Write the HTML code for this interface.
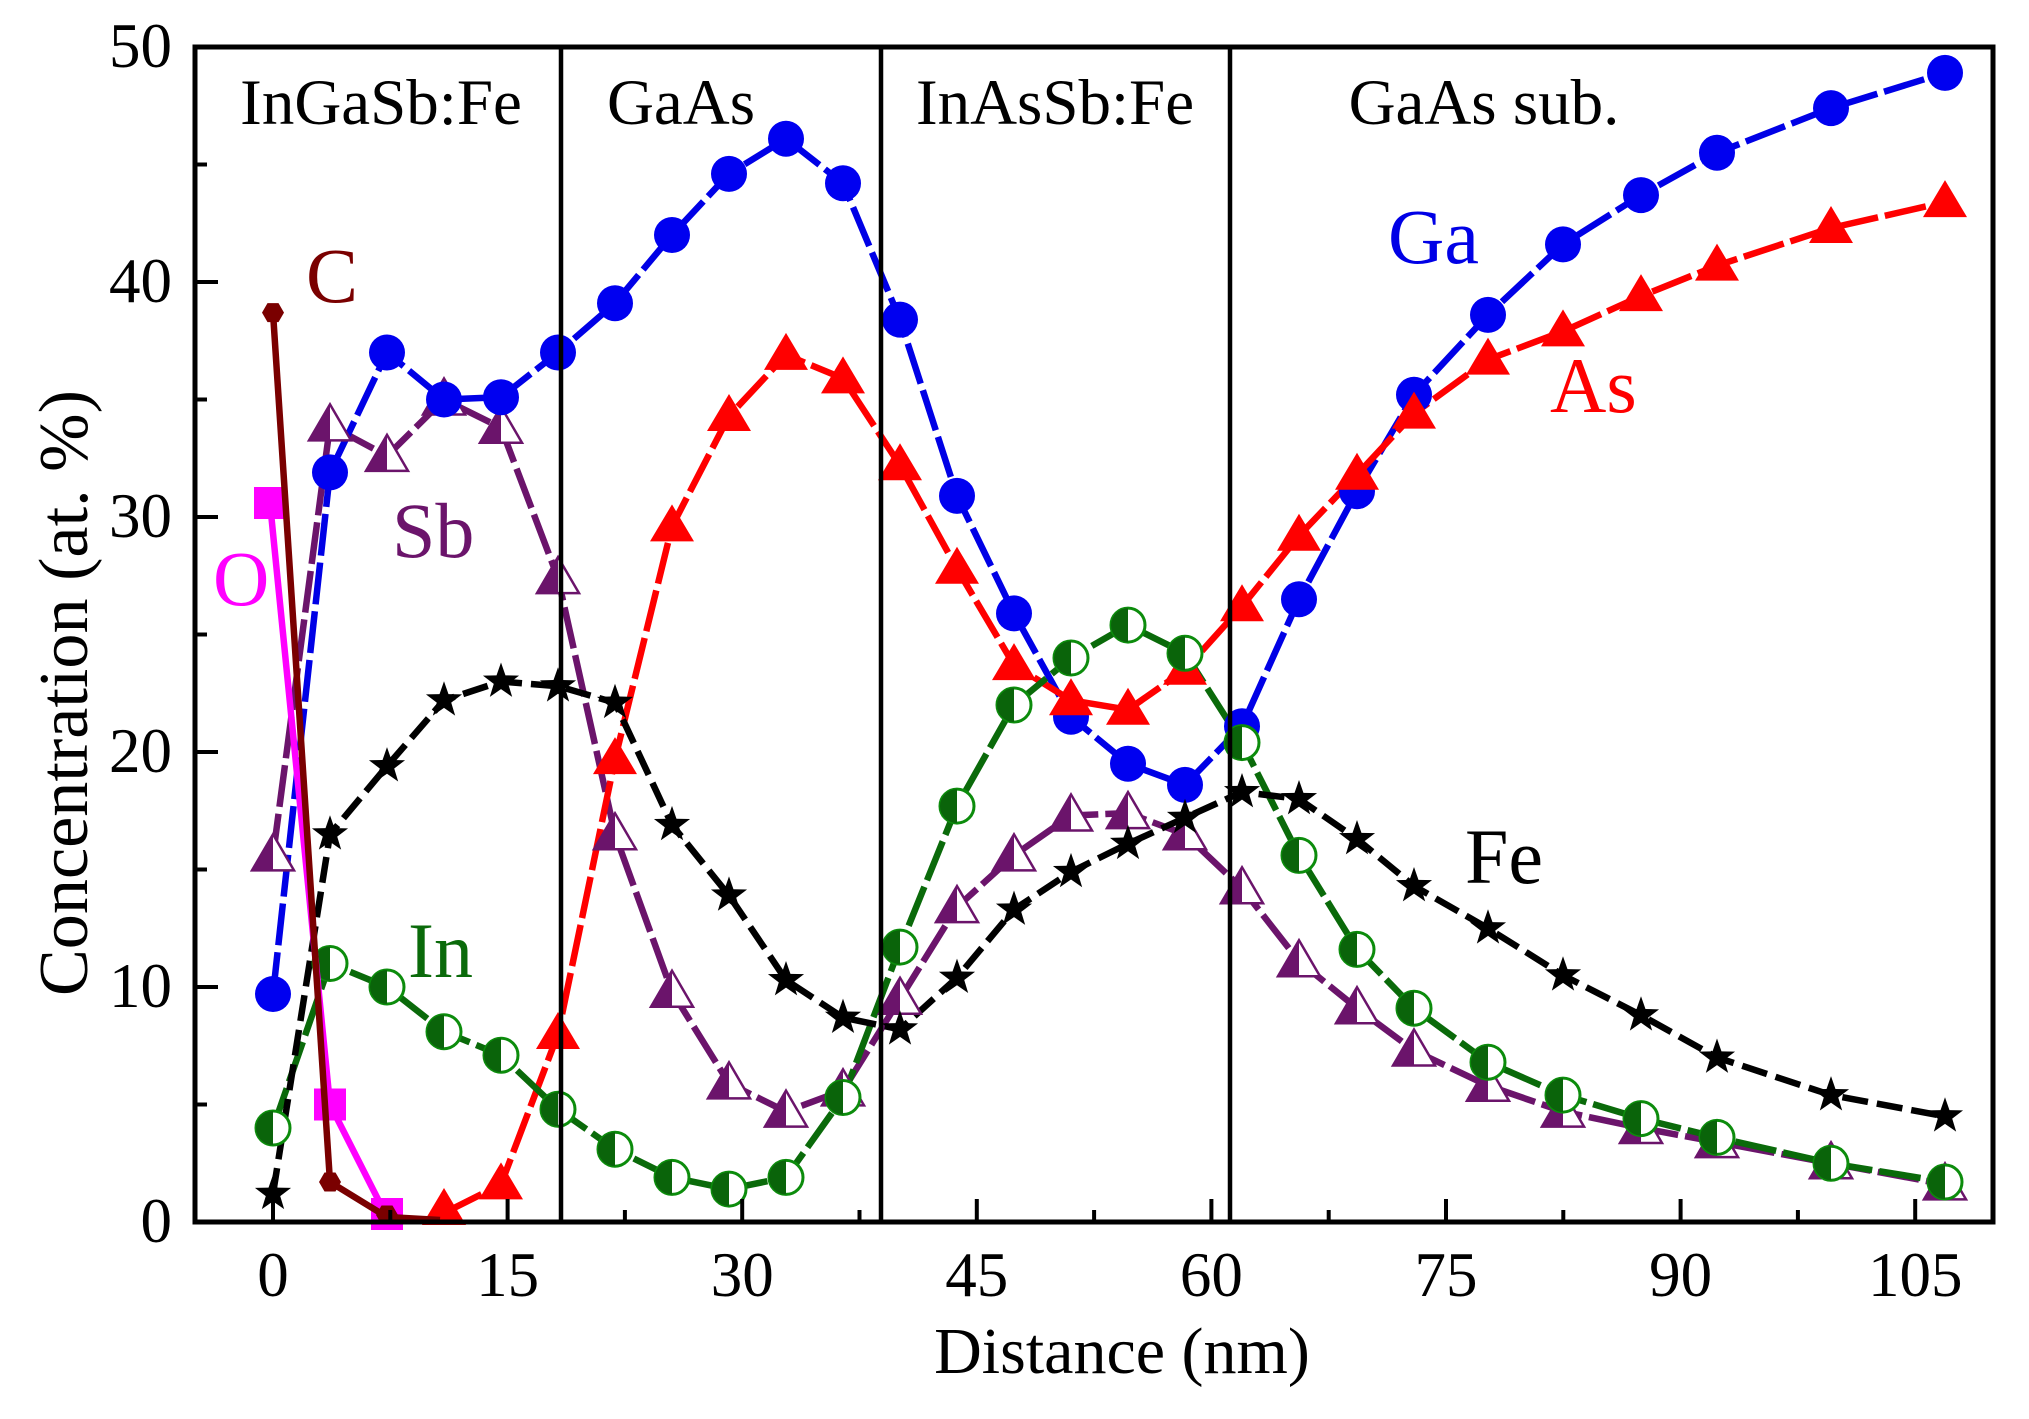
<!DOCTYPE html>
<html><head><meta charset="utf-8"><style>
html,body{margin:0;padding:0;background:#fff;}
svg{display:block;}
text{font-family:"Liberation Serif","DejaVu Serif",serif;}
</style></head><body>
<svg width="2029" height="1419" viewBox="0 0 2029 1419" xmlns="http://www.w3.org/2000/svg">
<defs>
  <g id="mC"><circle r="18" fill="#0000f0"/></g>
  <g id="mT"><polygon points="0,-22 22,15 -22,15" fill="#ff0000"/></g>
  <g id="mH"><polygon points="0,-21 21,15 -21,15" fill="#fff" stroke="#6b146b" stroke-width="2.5"/><polygon points="0,-21 -21,15 0,15" fill="#6b146b"/></g>
  <g id="mG"><circle r="17" fill="#fff" stroke="#0c8c0c" stroke-width="3"/><path d="M0,-17 A17,17 0 0 0 0,17 Z" fill="#0a640a"/></g>
  <g id="mS"><polygon points="0,-19 4.47,-6.15 18.07,-5.87 7.23,2.35 11.17,15.37 0,7.6 -11.17,15.37 -7.23,2.35 -18.07,-5.87 -4.47,-6.15" fill="#000"/></g>
  <g id="mQ"><rect x="-16" y="-16" width="32" height="32" fill="#ff00ff"/></g>
  <g id="mX"><polygon points="11,0 5.5,9.5 -5.5,9.5 -11,0 -5.5,-9.5 5.5,-9.5" fill="#7a0000"/></g>
</defs>
<rect width="2029" height="1419" fill="#fff"/>

<g fill="none" stroke-width="6.5" stroke-linejoin="round">
<polyline stroke="#6b146b" stroke-dasharray="42 7" points="273,855.4 330,425.4 387,455.9 444,399.5 501,427.7 558,578.1 615,834.3 672,991.7 729,1083.4 786,1111.6 843,1090.4 900,998.8 957,907.1 1014,855.4 1071,815.5 1128,813.1 1185,834.3 1242,888.3 1299,961.2 1357,1008.2 1414,1050.5 1488,1085.7 1563,1111.6 1641,1128 1717,1142.1 1831,1163.3 1945,1184.4"/>
<polyline stroke="#0000e6" stroke-dasharray="42 7" points="273,994 330,472.4 387,352.5 444,399.5 501,397.2 558,352.5 615,303.2 672,235 729,173.9 786,138.7 843,183.3 900,319.6 957,495.9 1014,613.4 1071,716.8 1128,763.8 1185,784.9 1242,726.2 1299,599.3 1357,491.2 1414,394.8 1488,314.9 1563,244.4 1641,195.1 1717,152.8 1831,108.1 1945,72.9"/>
<polyline stroke="#ff0000" stroke-dasharray="42 7" points="444,1213 501,1184.4 558,1034 615,759.1 672,526.4 729,416 786,354.9 843,378.4 900,465.3 957,568.7 1014,665.1 1071,700.3 1128,709.7 1185,669.8 1242,606.3 1299,535.8 1357,474.7 1414,413.6 1488,359.6 1563,331.4 1641,296.1 1717,265.6 1831,228 1945,202.1"/>
<polyline stroke="#0a6a0a" stroke-dasharray="42 7" points="273,1128 330,963.5 387,987 444,1031.7 501,1055.2 558,1109.2 615,1149.2 672,1177.4 729,1189.1 786,1177.4 843,1097.5 900,947.1 957,806.1 1014,705 1071,658 1128,625.1 1185,653.3 1242,742.6 1299,855.4 1357,949.4 1414,1008.2 1488,1062.2 1563,1095.1 1641,1118.6 1717,1137.4 1831,1163.3 1945,1182"/>
<polyline stroke="#000" stroke-dasharray="26 9" points="273,1193.8 330,834.3 387,766.1 444,700.3 501,681.5 558,686.2 615,702.7 672,824.9 729,895.4 786,980 843,1017.6 900,1029.3 957,977.6 1014,909.5 1071,871.9 1128,843.7 1185,817.8 1242,792 1299,799 1357,839 1414,886 1488,928.3 1563,975.3 1641,1015.2 1717,1057.5 1831,1095.1 1945,1116.3"/>
</g>

<g>
<use href="#mH" x="273" y="855.4"/><use href="#mH" x="330" y="425.4"/><use href="#mH" x="387" y="455.9"/><use href="#mH" x="444" y="399.5"/><use href="#mH" x="501" y="427.7"/><use href="#mH" x="558" y="578.1"/><use href="#mH" x="615" y="834.3"/><use href="#mH" x="672" y="991.7"/><use href="#mH" x="729" y="1083.4"/><use href="#mH" x="786" y="1111.6"/><use href="#mH" x="843" y="1090.4"/><use href="#mH" x="900" y="998.8"/><use href="#mH" x="957" y="907.1"/><use href="#mH" x="1014" y="855.4"/><use href="#mH" x="1071" y="815.5"/><use href="#mH" x="1128" y="813.1"/><use href="#mH" x="1185" y="834.3"/><use href="#mH" x="1242" y="888.3"/><use href="#mH" x="1299" y="961.2"/><use href="#mH" x="1357" y="1008.2"/><use href="#mH" x="1414" y="1050.5"/><use href="#mH" x="1488" y="1085.7"/><use href="#mH" x="1563" y="1111.6"/><use href="#mH" x="1641" y="1128"/><use href="#mH" x="1717" y="1142.1"/><use href="#mH" x="1831" y="1163.3"/><use href="#mH" x="1945" y="1184.4"/>
</g>
<g>
<use href="#mC" x="273" y="994"/><use href="#mC" x="330" y="472.4"/><use href="#mC" x="387" y="352.5"/><use href="#mC" x="444" y="399.5"/><use href="#mC" x="501" y="397.2"/><use href="#mC" x="558" y="352.5"/><use href="#mC" x="615" y="303.2"/><use href="#mC" x="672" y="235"/><use href="#mC" x="729" y="173.9"/><use href="#mC" x="786" y="138.7"/><use href="#mC" x="843" y="183.3"/><use href="#mC" x="900" y="319.6"/><use href="#mC" x="957" y="495.9"/><use href="#mC" x="1014" y="613.4"/><use href="#mC" x="1071" y="716.8"/><use href="#mC" x="1128" y="763.8"/><use href="#mC" x="1185" y="784.9"/><use href="#mC" x="1242" y="726.2"/><use href="#mC" x="1299" y="599.3"/><use href="#mC" x="1357" y="491.2"/><use href="#mC" x="1414" y="394.8"/><use href="#mC" x="1488" y="314.9"/><use href="#mC" x="1563" y="244.4"/><use href="#mC" x="1641" y="195.1"/><use href="#mC" x="1717" y="152.8"/><use href="#mC" x="1831" y="108.1"/><use href="#mC" x="1945" y="72.9"/>
</g>
<g>
<use href="#mT" x="444" y="1210"/><use href="#mT" x="501" y="1184.4"/><use href="#mT" x="558" y="1034"/><use href="#mT" x="615" y="759.1"/><use href="#mT" x="672" y="526.4"/><use href="#mT" x="729" y="416"/><use href="#mT" x="786" y="354.9"/><use href="#mT" x="843" y="378.4"/><use href="#mT" x="900" y="465.3"/><use href="#mT" x="957" y="568.7"/><use href="#mT" x="1014" y="665.1"/><use href="#mT" x="1071" y="700.3"/><use href="#mT" x="1128" y="709.7"/><use href="#mT" x="1185" y="669.8"/><use href="#mT" x="1242" y="606.3"/><use href="#mT" x="1299" y="535.8"/><use href="#mT" x="1357" y="474.7"/><use href="#mT" x="1414" y="413.6"/><use href="#mT" x="1488" y="359.6"/><use href="#mT" x="1563" y="331.4"/><use href="#mT" x="1641" y="296.1"/><use href="#mT" x="1717" y="265.6"/><use href="#mT" x="1831" y="228"/><use href="#mT" x="1945" y="202.1"/>
</g>
<g>
<use href="#mG" x="273" y="1128"/><use href="#mG" x="330" y="963.5"/><use href="#mG" x="387" y="987"/><use href="#mG" x="444" y="1031.7"/><use href="#mG" x="501" y="1055.2"/><use href="#mG" x="558" y="1109.2"/><use href="#mG" x="615" y="1149.2"/><use href="#mG" x="672" y="1177.4"/><use href="#mG" x="729" y="1189.1"/><use href="#mG" x="786" y="1177.4"/><use href="#mG" x="843" y="1097.5"/><use href="#mG" x="900" y="947.1"/><use href="#mG" x="957" y="806.1"/><use href="#mG" x="1014" y="705"/><use href="#mG" x="1071" y="658"/><use href="#mG" x="1128" y="625.1"/><use href="#mG" x="1185" y="653.3"/><use href="#mG" x="1242" y="742.6"/><use href="#mG" x="1299" y="855.4"/><use href="#mG" x="1357" y="949.4"/><use href="#mG" x="1414" y="1008.2"/><use href="#mG" x="1488" y="1062.2"/><use href="#mG" x="1563" y="1095.1"/><use href="#mG" x="1641" y="1118.6"/><use href="#mG" x="1717" y="1137.4"/><use href="#mG" x="1831" y="1163.3"/><use href="#mG" x="1945" y="1182"/>
</g>
<g>
<use href="#mS" x="273" y="1193.8"/><use href="#mS" x="330" y="834.3"/><use href="#mS" x="387" y="766.1"/><use href="#mS" x="444" y="700.3"/><use href="#mS" x="501" y="681.5"/><use href="#mS" x="558" y="686.2"/><use href="#mS" x="615" y="702.7"/><use href="#mS" x="672" y="824.9"/><use href="#mS" x="729" y="895.4"/><use href="#mS" x="786" y="980"/><use href="#mS" x="843" y="1017.6"/><use href="#mS" x="900" y="1029.3"/><use href="#mS" x="957" y="977.6"/><use href="#mS" x="1014" y="909.5"/><use href="#mS" x="1071" y="871.9"/><use href="#mS" x="1128" y="843.7"/><use href="#mS" x="1185" y="817.8"/><use href="#mS" x="1242" y="792"/><use href="#mS" x="1299" y="799"/><use href="#mS" x="1357" y="839"/><use href="#mS" x="1414" y="886"/><use href="#mS" x="1488" y="928.3"/><use href="#mS" x="1563" y="975.3"/><use href="#mS" x="1641" y="1015.2"/><use href="#mS" x="1717" y="1057.5"/><use href="#mS" x="1831" y="1095.1"/><use href="#mS" x="1945" y="1116.3"/>
</g>
<polyline fill="none" stroke="#ff00ff" stroke-width="6.5" points="270,503 330,1104.5 387,1217"/>
<use href="#mQ" x="270" y="503"/><use href="#mQ" x="330" y="1104.5"/><use href="#mQ" x="387" y="1214"/>
<polyline fill="none" stroke="#7a0000" stroke-width="6.5" points="273,312.6 330,1182 387,1217 440,1220"/>
<use href="#mX" x="273" y="312.6"/><use href="#mX" x="330" y="1182"/><use href="#mX" x="387" y="1215"/>

<g stroke="#000" stroke-width="4.5">
<line x1="561" y1="47" x2="561" y2="1222"/>
<line x1="881" y1="47" x2="881" y2="1222"/>
<line x1="1230" y1="47" x2="1230" y2="1222"/>
</g>

<rect x="195" y="47" width="1798" height="1175" fill="none" stroke="#000" stroke-width="5"/>

<g stroke="#000" stroke-width="4">
<line x1="273" y1="1222" x2="273" y2="1199"/><line x1="507.6" y1="1222" x2="507.6" y2="1199"/><line x1="742.2" y1="1222" x2="742.2" y2="1199"/><line x1="976.8" y1="1222" x2="976.8" y2="1199"/><line x1="1211.4" y1="1222" x2="1211.4" y2="1199"/><line x1="1446" y1="1222" x2="1446" y2="1199"/><line x1="1680.6" y1="1222" x2="1680.6" y2="1199"/><line x1="1915.2" y1="1222" x2="1915.2" y2="1199"/>
<line x1="390.3" y1="1222" x2="390.3" y2="1210"/><line x1="624.9" y1="1222" x2="624.9" y2="1210"/><line x1="859.5" y1="1222" x2="859.5" y2="1210"/><line x1="1094.1" y1="1222" x2="1094.1" y2="1210"/><line x1="1328.7" y1="1222" x2="1328.7" y2="1210"/><line x1="1563.3" y1="1222" x2="1563.3" y2="1210"/><line x1="1797.9" y1="1222" x2="1797.9" y2="1210"/>
<line x1="195" y1="987" x2="218" y2="987"/><line x1="195" y1="752" x2="218" y2="752"/><line x1="195" y1="517" x2="218" y2="517"/><line x1="195" y1="282" x2="218" y2="282"/>
<line x1="195" y1="1104.5" x2="207" y2="1104.5"/><line x1="195" y1="869.5" x2="207" y2="869.5"/><line x1="195" y1="634.5" x2="207" y2="634.5"/><line x1="195" y1="399.5" x2="207" y2="399.5"/><line x1="195" y1="164.5" x2="207" y2="164.5"/>
</g>

<g font-size="63" fill="#000" text-anchor="end">
<text x="172" y="1242">0</text>
<text x="172" y="1007">10</text>
<text x="172" y="772">20</text>
<text x="172" y="537">30</text>
<text x="172" y="302">40</text>
<text x="172" y="67">50</text>
</g>
<g font-size="63" fill="#000" text-anchor="middle">
<text x="273" y="1296">0</text>
<text x="507.6" y="1296">15</text>
<text x="742.2" y="1296">30</text>
<text x="976.8" y="1296">45</text>
<text x="1211.4" y="1296">60</text>
<text x="1446" y="1296">75</text>
<text x="1680.6" y="1296">90</text>
<text x="1915.2" y="1296">105</text>
</g>

<text x="1122" y="1373" font-size="66" text-anchor="middle" fill="#000">Distance (nm)</text>
<text transform="translate(87,693) rotate(-90)" font-size="70" text-anchor="middle" fill="#000" textLength="606" lengthAdjust="spacingAndGlyphs">Concentration (at. %)</text>

<g font-size="65" fill="#000" text-anchor="middle">
<text x="381" y="124">InGaSb:Fe</text>
<text x="681" y="124">GaAs</text>
<text x="1055" y="124">InAsSb:Fe</text>
<text x="1484" y="124">GaAs sub.</text>
</g>

<g font-size="78">
<text x="306" y="302" fill="#7a0000">C</text>
<text x="392" y="557" fill="#6b146b">Sb</text>
<text x="213" y="605" fill="#ff00ff">O</text>
<text x="408" y="977" fill="#0a6a0a">In</text>
<text x="1388" y="263" fill="#0000e6">Ga</text>
<text x="1550" y="412" fill="#ff0000">As</text>
<text x="1465" y="883" fill="#000">Fe</text>
</g>
</svg>
</body></html>
